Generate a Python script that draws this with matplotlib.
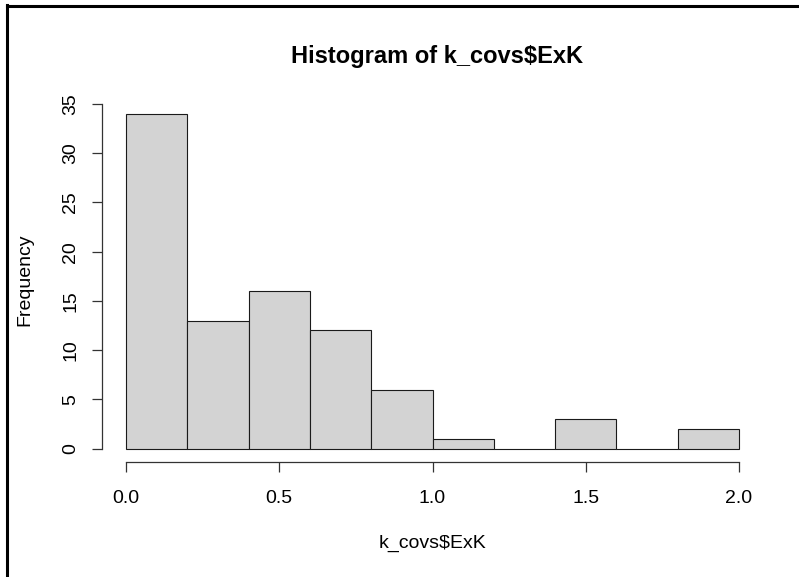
import numpy as np
import matplotlib
matplotlib.use("Agg")
import matplotlib.pyplot as plt
from matplotlib.lines import Line2D

# Histogram of k_covs$ExK: bin edges and counts
bin_edges = [0.0, 0.2, 0.4, 0.6, 0.8, 1.0, 1.2, 1.4, 1.6, 1.8, 2.0]
counts = [34, 13, 16, 12, 6, 1, 0, 3, 0, 2]
x_ticks = [0.0, 0.5, 1.0, 1.5, 2.0]
x_tick_labels = ["0.0", "0.5", "1.0", "1.5", "2.0"]
y_ticks = [0, 5, 10, 15, 20, 25, 30, 35]

plt.rcParams["font.family"] = ["Liberation Sans", "DejaVu Sans"]

W, H = 799, 577
fig = plt.figure(figsize=(W / 100, H / 100), dpi=100)
ax = fig.add_axes([101.5 / W, 1 - 462.4 / H, 662 / W, 361.9 / H])

edges = np.array(bin_edges)
ax.bar(edges[:-1], counts, width=np.diff(edges), align="edge",
       color="#d3d3d3", edgecolor="#1a1a1a", linewidth=0.8)

ax.set_xlim(-0.08, 2.08)
ax.set_ylim(-1.4, 35.36)

for side in ["top", "right"]:
    ax.spines[side].set_visible(False)
ax.spines["left"].set_bounds(0, 35)
ax.spines["bottom"].set_bounds(0, 2)
for side in ["left", "bottom"]:
    ax.spines[side].set_linewidth(0.9)
    ax.spines[side].set_color("#333333")

ax.set_xticks(x_ticks)
ax.set_xticklabels(x_tick_labels)
ax.set_yticks(y_ticks)
ax.tick_params(axis="both", length=7, width=0.9, color="#333333",
               labelsize=14)
ax.tick_params(axis="x", pad=13)
ax.tick_params(axis="y", pad=9)
for lab in ax.get_yticklabels():
    lab.set_rotation(90)
    lab.set_va("center")

fig.text(437 / W, 1 - 56 / H, "Histogram of k_covs$ExK", ha="center",
         va="center", fontsize=17, fontweight="bold")
fig.text(432 / W, 1 - 543 / H, "k_covs$ExK", ha="center", va="center",
         fontsize=14)
fig.text(25 / W, 1 - 280 / H, "Frequency", ha="center", va="center",
         fontsize=14, rotation=90)

# frame lines along the left and top edges of the picture
fig.add_artist(Line2D([7 / W, 7 / W], [0, 1 - 5 / H], color="black",
                      linewidth=2.2, transform=fig.transFigure))
fig.add_artist(Line2D([7 / W, 798 / W], [1 - 5.5 / H, 1 - 5.5 / H],
                      color="black", linewidth=2.2, transform=fig.transFigure))

fig.savefig("out.png", dpi=100)
